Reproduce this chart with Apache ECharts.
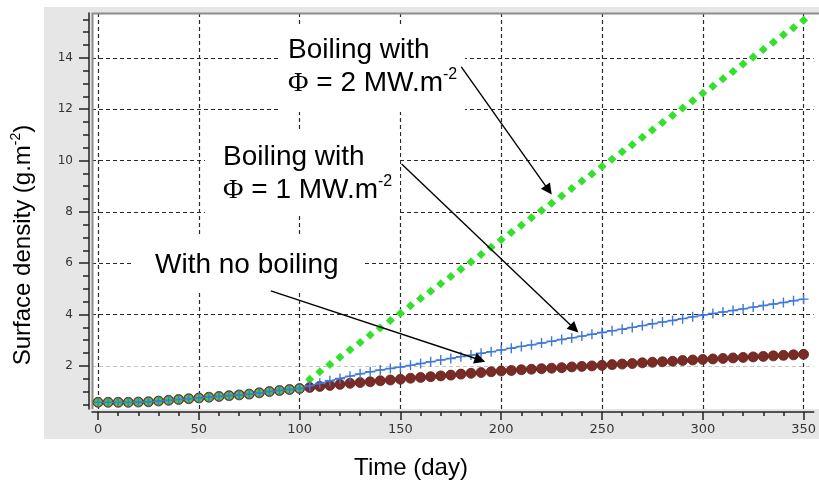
<!DOCTYPE html>
<html>
<head>
<meta charset="utf-8">
<script src="https://cdn.jsdelivr.net/npm/echarts@6.0.0/dist/echarts.min.js"></script>
<style>
  html, body { margin: 0; padding: 0; background: #ffffff; }
  #chart { width: 819px; height: 484px; }
</style>
</head>
<body>
<div id="chart"></div>
<script>
// Sampling times (day)
const days = [
  0, 5, 10, 15, 20, 25, 30, 35, 40, 45, 50, 55, 60, 65, 70, 75, 80, 85, 90, 95, 100,
  105, 110, 115, 120, 125, 130, 135, 140, 145, 150, 155, 160, 165, 170, 175, 180, 185, 190, 195, 200,
  205, 210, 215, 220, 225, 230, 235, 240, 245, 250, 255, 260, 265, 270, 275, 280, 285, 290, 295, 300,
  305, 310, 315, 320, 325, 330, 335, 340, 345, 350
];

// Surface density (g.m-2) without boiling
const noBoiling = [
  0.58, 0.58, 0.58, 0.58, 0.59, 0.60, 0.63, 0.66, 0.69, 0.72, 0.75, 0.78, 0.81, 0.84, 0.87, 0.90, 0.95, 1.00, 1.04, 1.08, 1.12,
  1.16, 1.20, 1.24, 1.28, 1.32, 1.35, 1.38, 1.42, 1.45, 1.48, 1.52, 1.55, 1.58, 1.61, 1.64, 1.68, 1.71, 1.74, 1.77, 1.80,
  1.82, 1.85, 1.87, 1.89, 1.91, 1.93, 1.96, 1.98, 2.00, 2.02, 2.05, 2.07, 2.09, 2.12, 2.14, 2.16, 2.18, 2.21, 2.23, 2.25,
  2.27, 2.29, 2.31, 2.33, 2.35, 2.37, 2.39, 2.41, 2.43, 2.45
];

// Surface density with boiling, heat flux 1 MW.m-2
const flux1 = [
  0.58, 0.58, 0.58, 0.58, 0.59, 0.60, 0.63, 0.66, 0.69, 0.72, 0.75, 0.78, 0.81, 0.84, 0.87, 0.90, 0.95, 1.00, 1.04, 1.08, 1.12,
  1.22, 1.32, 1.42, 1.51, 1.60, 1.69, 1.77, 1.84, 1.90, 1.95, 2.02, 2.09, 2.16, 2.23, 2.29, 2.36, 2.42, 2.49, 2.55, 2.62,
  2.69, 2.76, 2.82, 2.89, 2.96, 3.03, 3.09, 3.16, 3.23, 3.30, 3.37, 3.43, 3.50, 3.57, 3.64, 3.71, 3.77, 3.84, 3.91, 3.98,
  4.04, 4.10, 4.16, 4.22, 4.29, 4.35, 4.41, 4.47, 4.54, 4.60
];

// Surface density with boiling, heat flux 2 MW.m-2
const flux2 = [
  0.58, 0.58, 0.58, 0.58, 0.59, 0.60, 0.63, 0.66, 0.69, 0.72, 0.75, 0.78, 0.81, 0.84, 0.87, 0.90, 0.95, 1.00, 1.04, 1.08, 1.12,
  1.48, 1.77, 2.05, 2.34, 2.63, 2.91, 3.20, 3.48, 3.77, 4.05, 4.34, 4.63, 4.91, 5.20, 5.48, 5.77, 6.05, 6.34, 6.62, 6.91,
  7.20, 7.48, 7.77, 8.05, 8.34, 8.62, 8.91, 9.20, 9.48, 9.77, 10.05, 10.34, 10.62, 10.91, 11.19, 11.48, 11.76, 12.05, 12.33, 12.62,
  12.90, 13.19, 13.47, 13.76, 14.04, 14.33, 14.61, 14.90, 15.18, 15.47
];

// Axis tick labels
const xTicks = [0, 50, 100, 150, 200, 250, 300, 350];
const yTicks = [2, 4, 6, 8, 10, 12, 14];

// Minor tick positions (every 10 days / every 0.5 g.m-2)
const xMinor = [];
for (let v = 0; v <= 350; v += 10) if (v % 50 !== 0) xMinor.push(v);
const yMinor = [];
for (let v = 0.5; v <= 15.5; v += 0.5) if (v % 2 !== 0) yMinor.push(v);

const boilingStartIndex = days.indexOf(100);
const pairs = (ys) => days.map((d, i) => [d, ys[i]]);

const X_MIN = -3, X_MAX = 355;
const Y_MIN = 0.32, Y_MAX = 15.75;

const axisColor = '#222';
const gridDash = [4, 3];
const plusPath = 'path://M4.3,0H5.7V4.3H10V5.7H5.7V10H4.3V5.7H0V4.3H4.3Z';

const arrowLine = {
  silent: true,
  symbol: ['none', 'triangle'],
  symbolSize: 11,
  label: { show: false },
  emphasis: { disabled: true },
  itemStyle: { color: '#000' },
  lineStyle: { color: '#000', width: 1.4, type: 'solid' },
  data: [
    [{ coord: [180.2, 13.65] }, { coord: [223.5, 8.85] }],
    [{ coord: [150.6, 9.87] }, { coord: [236.3, 3.45] }],
    [{ coord: [85.7, 4.92] }, { coord: [189.5, 2.23] }]
  ]
};

const annFont = '"Liberation Sans", Arial, sans-serif';
const richAnn = {
  n: { fontSize: 28, fontFamily: annFont, color: '#000', lineHeight: 33 },
  p: { fontSize: 28, fontFamily: '"Liberation Serif", "Times New Roman", serif', color: '#000', lineHeight: 33 },
  s: { fontSize: 16, fontFamily: annFont, color: '#000', lineHeight: 33, verticalAlign: 'top', padding: [0, 0, 14, 0] }
};

function annotation(x, y, text) {
  return {
    type: 'text', x: x, y: y, z: 1, z2: 10,
    style: { text: text, rich: richAnn, textVerticalAlign: 'top', textAlign: 'left' }
  };
}
function whiteBox(x, y, w, h) {
  return { type: 'rect', z: 1, shape: { x: x, y: y, width: w, height: h }, style: { fill: '#ffffff' } };
}

const chart = echarts.init(document.getElementById('chart'), null, { renderer: 'canvas' });

chart.setOption({
  animation: false,
  graphic: [
    { type: 'rect', z: -10, shape: { x: 44, y: 7, width: 775, height: 432 }, style: { fill: '#e6e6e6' } },
    { type: 'rect', z: -9, shape: { x: 92, y: 13, width: 727, height: 396 }, style: { fill: '#ffffff' } },
    { type: 'polyline', z: 1, z2: 20, shape: { points: [[92.5, 409], [92.5, 13.5], [819, 13.5]] },
      style: { stroke: '#8c8c8c', lineWidth: 2, fill: null } },
    whiteBox(278, 24, 187, 88),
    whiteBox(205, 131, 195, 85),
    whiteBox(133, 237, 229, 53),
    annotation(288, 34, '{n|Boiling with}\n{p|Φ}{n| = 2 MW.m}{s|-2}'),
    annotation(223, 141, '{n|Boiling with}\n{p|Φ}{n| = 1 MW.m}{s|-2}'),
    annotation(155, 249, '{n|With no boiling}'),
    {
      type: 'text', x: 411, y: 468, z: 1,
      style: { text: 'Time (day)', font: '24px "Liberation Sans", Arial, sans-serif', fill: '#000',
               textAlign: 'center', textVerticalAlign: 'middle' }
    },
    {
      type: 'text', x: 23, y: 245, rotation: Math.PI / 2, z: 1,
      style: {
        text: '{n|Surface density (g.m}{s|-2}{n|)}',
        textAlign: 'center', textVerticalAlign: 'middle',
        rich: {
          n: { fontSize: 24, fontFamily: annFont, color: '#000', lineHeight: 28 },
          s: { fontSize: 14, fontFamily: annFont, color: '#000', lineHeight: 28, verticalAlign: 'top', padding: [0, 0, 10, 0] }
        }
      }
    }
  ],
  grid: { left: 92, right: 0, top: 13, bottom: 75, show: false },
  xAxis: [
    {
      type: 'value', position: 'bottom', min: X_MIN, max: X_MAX, offset: 3,
      axisLine: { show: true, onZero: false, lineStyle: { color: axisColor, width: 1.5 } },
      axisTick: { show: true, length: 8, customValues: xTicks, lineStyle: { color: axisColor, width: 1.5 } },
      axisLabel: { customValues: xTicks, margin: 11, fontFamily: '"DejaVu Sans", sans-serif', fontSize: 13, color: '#333' },
      splitLine: { show: true, lineStyle: { type: gridDash, color: '#2a2a2a', width: 1.2 } }
    },
    {
      type: 'value', position: 'bottom', min: X_MIN, max: X_MAX, offset: 3,
      axisLine: { show: false, onZero: false },
      axisTick: { show: true, length: 4, customValues: xMinor, lineStyle: { color: axisColor, width: 1.5 } },
      axisLabel: { show: false },
      splitLine: { show: false }
    }
  ],
  yAxis: [
    {
      type: 'value', position: 'left', min: Y_MIN, max: Y_MAX, offset: 3,
      axisLine: { show: true, onZero: false, lineStyle: { color: axisColor, width: 1.5 } },
      axisTick: { show: true, length: 10, customValues: yTicks, lineStyle: { color: axisColor, width: 1.5 } },
      axisLabel: { customValues: yTicks, margin: 16, fontFamily: '"DejaVu Sans", sans-serif', fontSize: 12, color: '#333' },
      splitLine: { show: true, lineStyle: { type: gridDash, width: 1.2,
        color: ['#c4c4c4', '#2a2a2a', '#2a2a2a', '#2a2a2a', '#2a2a2a', '#2a2a2a', '#2a2a2a'] } }
    },
    {
      type: 'value', position: 'left', min: Y_MIN, max: Y_MAX, offset: 3,
      axisLine: { show: false, onZero: false },
      axisTick: { show: true, length: 6, customValues: yMinor, lineStyle: { color: axisColor, width: 1.5 } },
      axisLabel: { show: false },
      splitLine: { show: false }
    }
  ],
  series: [
    {
      name: 'With no boiling', type: 'line', z: 2, clip: false,
      data: pairs(noBoiling),
      symbol: 'circle', symbolSize: 10,
      itemStyle: { color: '#7a2b25', borderColor: '#5e1f1a', borderWidth: 0.8 },
      lineStyle: { color: '#7a2b25', width: 1 },
      emphasis: { disabled: true }
    },
    {
      name: 'Boiling 2 MW.m-2', type: 'line', z: 3, clip: false,
      data: pairs(flux2),
      symbol: (v, p) => (p.dataIndex <= boilingStartIndex ? 'circle' : 'diamond'),
      symbolSize: (v, p) => (p.dataIndex <= boilingStartIndex ? 8 : 9),
      itemStyle: { color: (p) => (p.dataIndex <= boilingStartIndex ? '#44c840' : '#33e02c') },
      lineStyle: { opacity: 0 },
      emphasis: { disabled: true },
      markLine: arrowLine
    },
    {
      name: 'Boiling 1 MW.m-2', type: 'line', z: 4, clip: false,
      data: pairs(flux1),
      symbol: plusPath, symbolSize: 10,
      itemStyle: { color: '#3f78d8' },
      lineStyle: { color: '#3f78d8', width: 1.2 },
      emphasis: { disabled: true }
    }
  ]
});
</script>
</body>
</html>
